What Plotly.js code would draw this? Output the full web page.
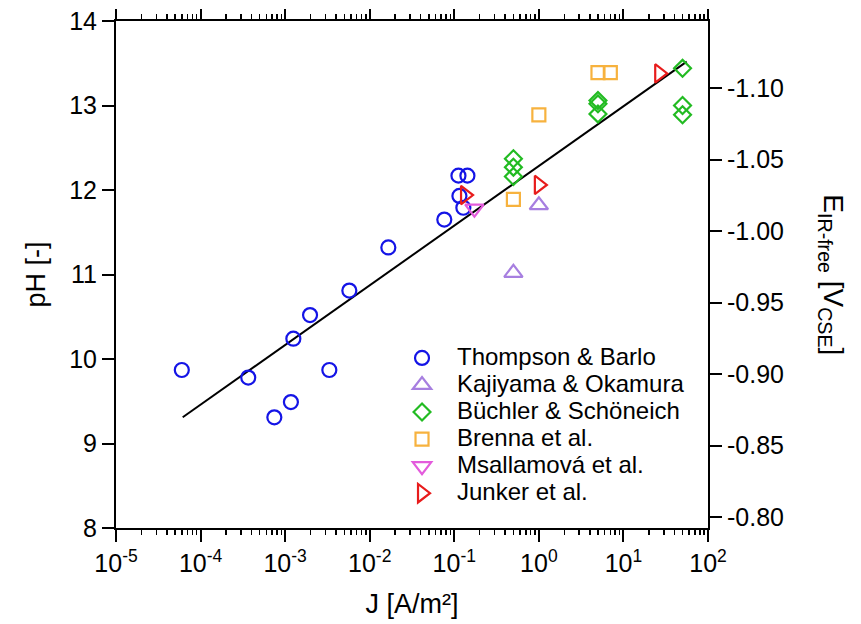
<!DOCTYPE html>
<html>
<head>
<meta charset="utf-8">
<script src="https://cdn.plot.ly/plotly-3.0.1.min.js"></script>
<style>html,body{margin:0;padding:0;background:#fff}</style>
</head>
<body>
<div id="chart" style="width:861px;height:624px"></div>
<script>
// Current density J [A/m²] and measured pH, per data source
const thompsonJ  = [6.0e-5, 3.66e-4, 7.45e-4, 1.17e-3, 1.25e-3, 1.97e-3, 3.33e-3, 5.74e-3, 0.0166, 0.0762, 0.112, 0.143, 0.115, 0.128];
const thompsonPH = [9.87, 9.78, 9.31, 9.49, 10.24, 10.52, 9.87, 10.81, 11.32, 11.65, 12.17, 12.17, 11.93, 11.79];

const kajiyamaJ  = [0.5, 1.0];
const kajiyamaPH = [11.02, 11.82];

const buechlerJ  = [0.5, 0.5, 0.5, 5, 5, 5, 50, 50, 50];
const buechlerPH = [12.37, 12.27, 12.16, 13.06, 13.02, 12.90, 13.44, 13.00, 12.89];

const brennaJ  = [0.5, 1.0, 5.0, 7.0];
const brennaPH = [11.89, 12.89, 13.39, 13.39];

const msallamovaJ  = [0.173];
const msallamovaPH = [11.78];

const junkerJ  = [0.134, 1.0, 26.5];
const junkerPH = [11.94, 12.06, 13.38];

// Regression line end points
const fitJ  = [6.15e-5, 56];
const fitPH = [9.31, 13.52];

// Axis ticks
const decadeExponents = [-5, -4, -3, -2, -1, 0, 1, 2];
const phTicks = [8, 9, 10, 11, 12, 13, 14];
const eTicks  = [-0.80, -0.85, -0.90, -0.95, -1.00, -1.05, -1.10];

// Potential scale: E = E_OFFSET - E_SLOPE * pH
const E_OFFSET = -0.3195;
const E_SLOPE  = 0.0591;
const PH_RANGE = [8, 14];

const FONT = 'Arial, "Liberation Sans", Helvetica, sans-serif';
const LEG = s => '<span style="font-size:24px">' + s + '</span>';

function series(name, x, y, symbol, color, size) {
  return {
    type: 'scatter', mode: 'markers', name: LEG(name), x: x, y: y,
    marker: {symbol: symbol, size: size, color: color,
             line: {color: color, width: 2.2}},
    cliponaxis: false
  };
}

const traces = [
  {type: 'scatter', mode: 'lines', x: fitJ, y: fitPH, showlegend: false,
   line: {color: '#000', width: 2}},
  series('Thompson &amp; Barlo', thompsonJ, thompsonPH, 'circle-open', '#1414e6', 14),
  series('Kajiyama &amp; Okamura', kajiyamaJ, kajiyamaPH, 'triangle-up-open', '#a77fe0', 16),
  series('Büchler &amp; Schöneich', buechlerJ, buechlerPH, 'diamond-open', '#22bb22', 13),
  series('Brenna et al.', brennaJ, brennaPH, 'square-open', '#f7b23e', 13),
  series('Msallamová et al.', msallamovaJ, msallamovaPH, 'triangle-down-open', '#e35bdc', 16),
  series('Junker et al.', junkerJ, junkerPH, 'triangle-right-open', '#e81c1c', 16),
  // carriers for the top and right axes
  {type: 'scatter', x: [], y: [], xaxis: 'x2', yaxis: 'y', showlegend: false, hoverinfo: 'skip'},
  {type: 'scatter', x: [], y: [], xaxis: 'x', yaxis: 'y2', showlegend: false, hoverinfo: 'skip'}
];

const logTickCommon = {
  type: 'log', range: [-5, 2], autorange: false,
  showline: true, linewidth: 2, linecolor: '#000',
  ticks: 'outside', tickwidth: 2, tickcolor: '#000',
  tickmode: 'array',
  tickvals: decadeExponents.map(e => Math.pow(10, e)),
  showgrid: false, zeroline: false,
  minor: {ticks: 'outside', ticklen: 5, tickwidth: 1.5, tickcolor: '#000', dtick: 'D1', showgrid: false}
};

const layout = {
  width: 861, height: 624,
  margin: {l: 116, r: 153, t: 21, b: 96},
  paper_bgcolor: '#fff', plot_bgcolor: '#fff',
  font: {family: FONT, color: '#000', size: 24},
  showlegend: true,
  legend: {x: 0.4578, y: 0.372, xanchor: 'left', yanchor: 'top',
           bgcolor: 'rgba(0,0,0,0)', borderwidth: 0,
           font: {family: FONT, size: 18.5, color: '#000'},
           itemwidth: 60, tracegroupgap: 0},
  xaxis: Object.assign({}, logTickCommon, {
    ticklen: 12,
    ticktext: decadeExponents.map(e => '10<sup>' + e + '</sup>'),
    tickfont: {size: 25},
    title: {text: 'J [A/m²]', font: {size: 27}, standoff: 18}
  }),
  xaxis2: Object.assign({}, logTickCommon, {
    overlaying: 'x', side: 'top', anchor: 'y',
    ticklen: 10, showticklabels: false
  }),
  yaxis: {
    range: PH_RANGE, autorange: false,
    showline: true, linewidth: 2, linecolor: '#000',
    ticks: 'outside', ticklen: 12, tickwidth: 2, tickcolor: '#000',
    tickmode: 'array', tickvals: phTicks,
    tickfont: {size: 25},
    showgrid: false, zeroline: false,
    title: {text: 'pH [-]', font: {size: 27}, standoff: 16}
  },
  yaxis2: {
    overlaying: 'y', side: 'right', anchor: 'x',
    range: PH_RANGE.map(p => E_OFFSET - E_SLOPE * p), autorange: false,
    showline: true, linewidth: 2, linecolor: '#000',
    ticks: 'outside', ticklen: 12, tickwidth: 2, tickcolor: '#000',
    tickmode: 'array', tickvals: eTicks,
    ticktext: eTicks.map(v => v.toFixed(2)),
    tickfont: {size: 25},
    showgrid: false, zeroline: false
  },
  annotations: [{
    xref: 'paper', yref: 'paper', x: 1.208, y: 0.5,
    xanchor: 'center', yanchor: 'middle', textangle: 90, showarrow: false,
    text: 'E<sub>IR-free</sub> [V<sub>CSE</sub>]',
    font: {family: FONT, size: 28, color: '#000'}
  }]
};

Plotly.newPlot('chart', traces, layout, {displayModeBar: false, staticPlot: true});
</script>
</body>
</html>
